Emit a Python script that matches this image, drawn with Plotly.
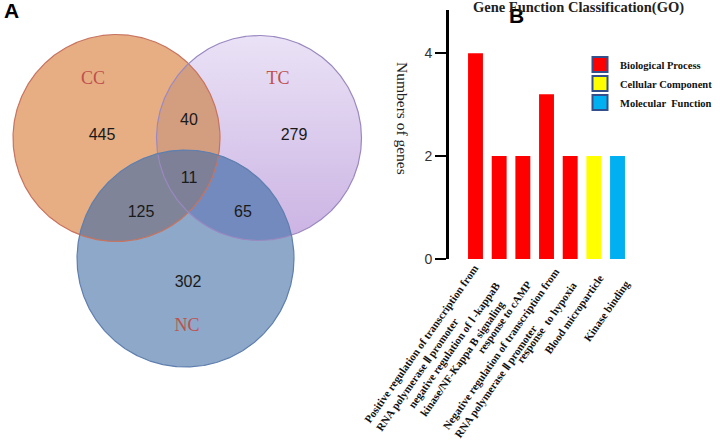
import numpy as np
import plotly.graph_objects as go

# ---------------- data ----------------
venn_sets = ["CC", "TC", "NC"]
venn_regions = ["CC only", "CC&TC", "TC only", "CC&TC&NC", "CC&NC", "TC&NC", "NC only"]
venn_counts = [445, 40, 279, 11, 125, 65, 302]

go_terms = [
    "Positive regulation of transcription from<br>RNA polymerase Ⅱ promoter",
    "negative regulation of Ⅰ -kappaB<br>kinase/NF-Kappa B signaling",
    "response to cAMP",
    "Negative regulation of transcription from<br>RNA polymerase Ⅱ promoter",
    "response  to hypoxia",
    "Blood microparticle",
    "Kinase binding",
]
gene_counts = [4, 2, 2, 3.2, 2, 2, 2]
go_category = ["Biological Process", "Biological Process", "Biological Process",
               "Biological Process", "Biological Process",
               "Cellular Component", "Molecular  Function"]
categories = ["Biological Process", "Cellular Component", "Molecular  Function"]

# ---------------- styles / geometry ----------------
cat_colors = {"Biological Process": "#FF0000",
              "Cellular Component": "#FFFF00",
              "Molecular  Function": "#00B0F0"}

circ_center = {"CC": (116.5, 138.0), "TC": (259.0, 138.0), "NC": (185.5, 258.5)}
circ_radius = {"CC": 103.5, "TC": 102.5, "NC": 108.5}
circ_outline = {"CC": "#C8735F", "TC": "#9A88C0", "NC": "#5F7FAF"}
region_fill = {
    ("CC",): "#E7AE84",
    ("TC",): "#DCCBEE",
    ("NC",): "#8DA8C8",
    ("CC", "TC"): "#D39E80",
    ("CC", "NC"): "#7F8498",
    ("TC", "NC"): "#738ABF",
    ("CC", "TC", "NC"): "#7E8097",
}
region_gradient = {("TC",): ("#EAE2F6", "#CBB3E3")}
count_pos = {"CC only": (102, 136), "CC&TC": (189, 121), "TC only": (294, 136),
             "CC&TC&NC": (189, 179), "CC&NC": (141, 213), "TC&NC": (243, 213),
             "NC only": (188, 283)}
set_label_pos = {"CC": (93, 79), "TC": (278, 79), "NC": (187, 326)}
# pixel offset (right, down) of each rotated category label's centre from its bar foot
label_offset = [(-48.9, 88.8), (-39.6, 89.8), (-18.8, 57.5), (-39.9, 94.3),
                (-23.7, 62.5), (-19.8, 55.0), (-11.0, 52.0)]


def circle_pts(name, n=720):
    cx, cy = circ_center[name]
    r = circ_radius[name]
    t = np.linspace(0, 2 * np.pi, n, endpoint=False)
    return np.column_stack([cx + r * np.cos(t), cy + r * np.sin(t)])


def intersection(names):
    pts = np.vstack([circle_pts(n) for n in names])
    keep = np.ones(len(pts), bool)
    for n in names:
        cx, cy = circ_center[n]
        keep &= np.hypot(pts[:, 0] - cx, pts[:, 1] - cy) <= circ_radius[n] + 1e-6
    pts = pts[keep]
    m = pts.mean(axis=0)
    order = np.argsort(np.arctan2(pts[:, 1] - m[1], pts[:, 0] - m[0]))
    pts = pts[order]
    return np.vstack([pts, pts[:1]])


fig = go.Figure()

# ---------------- Venn diagram (x2 / y2) ----------------
draw_order = [("CC",), ("TC",), ("NC",), ("CC", "TC"), ("CC", "NC"), ("TC", "NC"), ("CC", "TC", "NC")]
for key in draw_order:
    poly = intersection(list(key))
    kw = {}
    if key in region_gradient:
        c0, c1 = region_gradient[key]
        kw["fillgradient"] = dict(type="vertical", colorscale=[[0, c0], [1, c1]],
                                  start=poly[:, 1].min(), stop=poly[:, 1].max())
    else:
        kw["fillcolor"] = region_fill[key]
    fig.add_trace(go.Scatter(x=poly[:, 0], y=poly[:, 1], mode="lines", fill="toself",
                             line=dict(width=0), xaxis="x2", yaxis="y2",
                             hoverinfo="skip", showlegend=False, **kw))
for s in venn_sets:
    p = circle_pts(s)
    p = np.vstack([p, p[:1]])
    fig.add_trace(go.Scatter(x=p[:, 0], y=p[:, 1], mode="lines",
                             line=dict(width=1.2, color=circ_outline[s]),
                             xaxis="x2", yaxis="y2", hoverinfo="skip", showlegend=False))

fig.add_trace(go.Scatter(
    x=[count_pos[r][0] for r in venn_regions], y=[count_pos[r][1] for r in venn_regions],
    text=[str(c) for c in venn_counts], mode="text",
    textfont=dict(family="Liberation Sans", size=16, color="#1A1A1A"),
    xaxis="x2", yaxis="y2", hoverinfo="skip", showlegend=False))
fig.add_trace(go.Scatter(
    x=[set_label_pos[s][0] for s in venn_sets], y=[set_label_pos[s][1] for s in venn_sets],
    text=venn_sets, mode="text",
    textfont=dict(family="Liberation Serif", size=18, color="#C0504D"),
    xaxis="x2", yaxis="y2", hoverinfo="skip", showlegend=False))

# ---------------- bar chart (x / y) ----------------
fig.add_trace(go.Bar(x=go_terms, y=gene_counts,
                     marker=dict(color=[cat_colors[c] for c in go_category], line=dict(width=0)),
                     width=0.63, showlegend=False, hoverinfo="skip"))
for c in categories:
    fig.add_trace(go.Scatter(x=[None], y=[None], mode="markers", name=c,
                             marker=dict(symbol="square", size=15, color=cat_colors[c],
                                         line=dict(color="#34508C", width=2))))

W, H = 720, 446


def ann(text, px, py, size, family, color="black", angle=0):
    return dict(text=text, x=px / W, y=(H - py) / H, xref="paper", yref="paper",
                xanchor="center", yanchor="middle", showarrow=False, textangle=angle,
                font=dict(family=family, size=size, color=color))


annotations = [
    ann("<b>A</b>", 11, 11, 21, "Liberation Sans"),
    ann("<b>B</b>", 516, 16, 21, "Liberation Sans"),
    ann("<b>Gene Function Classification(GO)</b>", 578, 7, 14.5, "Liberation Serif", "#222"),
    ann("Numbers of genes", 403, 118, 15.5, "Liberation Serif", "#222", 90),
]
# category labels, placed on the category axis under each bar
for term, (dx, dy) in zip(go_terms, label_offset):
    annotations.append(dict(
        text="<b>" + term.replace("<br>", "</b><br><b>") + "</b>",
        x=term, y=0, xref="x", yref="y", xanchor="center", yanchor="middle",
        xshift=dx, yshift=-dy, textangle=-55, align="left", showarrow=False,
        font=dict(family="Liberation Serif", size=11, color="#111")))

fig.update_layout(
    width=W, height=H, margin=dict(l=0, r=0, t=0, b=0, autoexpand=False),
    paper_bgcolor="white", plot_bgcolor="rgba(0,0,0,0)",
    xaxis=dict(domain=[449 / W, 640 / W], range=[-1.12, 6.95], showline=False, ticks="",
               showgrid=False, zeroline=False, showticklabels=False, automargin=False),
    yaxis=dict(domain=[(H - 259) / H, (H - 10) / H], range=[0, 4.84],
               tickvals=[0, 2, 4], showline=True, linewidth=3, linecolor="black",
               ticks="outside", ticklen=11, tickwidth=2, tickcolor="black",
               showgrid=False, zeroline=False, automargin=False,
               tickfont=dict(family="Liberation Sans", size=14, color="#333")),
    xaxis2=dict(domain=[0, 380 / W], range=[0, 380], visible=False, anchor="y2"),
    yaxis2=dict(domain=[0, 1], range=[H, 0], visible=False, anchor="x2"),
    legend=dict(x=580 / W, y=(H - 50) / H, xanchor="left", yanchor="top",
                bgcolor="rgba(0,0,0,0)",
                font=dict(family="Liberation Serif", size=10.5, color="#111", weight="bold"),
                tracegroupgap=0, itemsizing="trace", itemclick=False, traceorder="normal"),
    annotations=annotations,
)
fig.write_html("out.html", config={"displayModeBar": False},
               post_script="document.body.style.margin='0px';")
